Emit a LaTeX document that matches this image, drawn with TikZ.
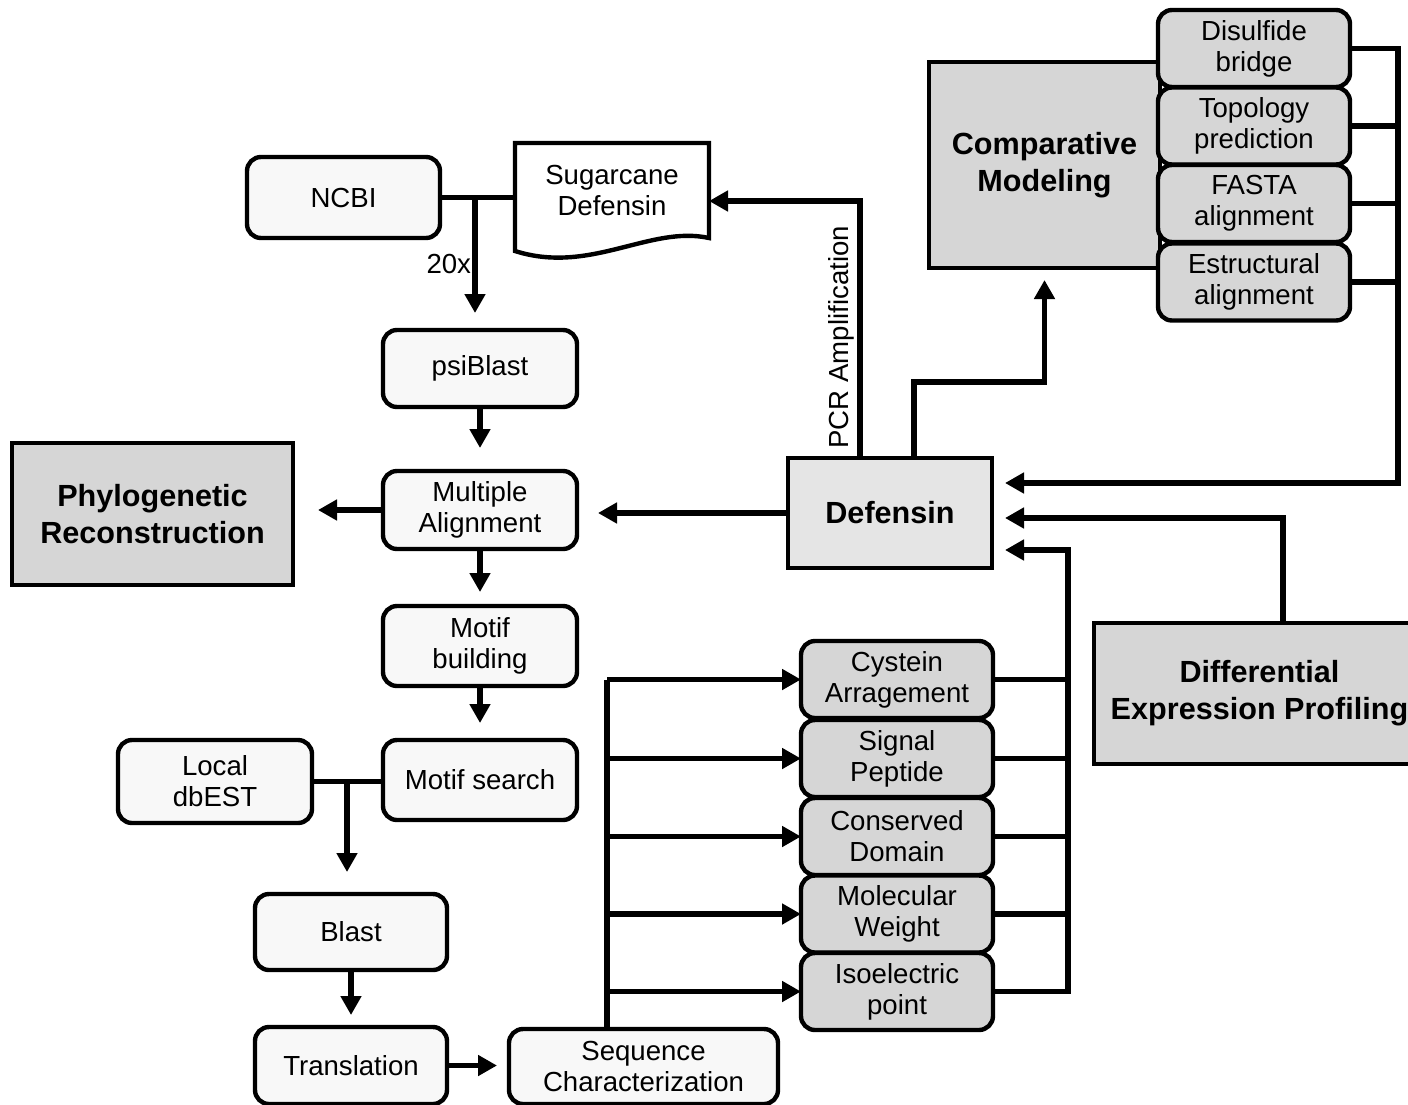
\documentclass[tikz,border=0pt]{standalone}
\usepackage{fontspec}
\setmainfont{Liberation Sans}
\usepackage{tikz}
\usetikzlibrary{arrows.meta,calc}

\definecolor{boxwhite}{RGB}{248,248,248}
\definecolor{boxgray}{RGB}{214,214,214}
\definecolor{boxlight}{RGB}{229,229,229}

\tikzset{
  flowbox/.style={draw=black,line width=2.2pt,rounded corners=7pt,fill=boxwhite,
    align=center,font=\fontsize{13.8}{15.5}\selectfont},
  propbox/.style={flowbox,fill=boxgray,minimum width=96pt,minimum height=38.5pt},
  bigbox/.style={draw=black,line width=2.2pt,fill=boxgray,align=center,
    font=\fontsize{15.3}{18.5}\selectfont\bfseries},
  link/.style={line width=2.6pt},
  flow/.style={link,-{Triangle[length=9.5pt,width=10pt]}},
}

\begin{document}
\begin{tikzpicture}[x=0.5pt,y=0.5pt,yscale=-1,inner sep=0pt,outer sep=0pt]
\useasboundingbox (0,0) rectangle (1408,1104);

\node[flowbox,minimum width=96.5pt,minimum height=40.5pt] (ncbi) at (343.5,197.5) {NCBI};
\node[align=center,font=\fontsize{13.8}{15.5}\selectfont,minimum width=97pt,
  minimum height=47.5pt] (sugar) at (612,190.5) {Sugarcane\\Defensin};
\draw[line width=2.2pt,line join=miter] (sugar.south east) .. controls (650,225) and (590,275) ..
  (515,251) -- (sugar.north west) -- (sugar.north east) -- cycle;
\node[flowbox,minimum width=97pt,minimum height=38.5pt] (psiblast) at (480,368.5) {psiBlast};
\node[flowbox,minimum width=97pt,minimum height=39pt] (malign) at (480,510) {Multiple\\Alignment};
\node[flowbox,minimum width=97pt,minimum height=40pt] (motifb) at (480,646) {Motif\\building};
\node[flowbox,minimum width=97pt,minimum height=40pt] (motifs) at (480,780) {Motif search};
\node[flowbox,minimum width=97pt,minimum height=41.5pt] (dbest) at (215,781.5) {Local\\dbEST};
\node[flowbox,minimum width=96pt,minimum height=38pt] (blast) at (351,932) {Blast};
\node[flowbox,minimum width=96pt,minimum height=38.5pt] (transl) at (351,1065.5) {Translation};
\node[flowbox,minimum width=134.5pt,minimum height=37.5pt] (seqchar) at (643.5,1066.5)
  {Sequence\\Characterization};

\node[bigbox,minimum width=140.5pt,minimum height=71pt] (phylo) at (152.5,514)
  {Phylogenetic\\Reconstruction};
\node[bigbox,fill=boxlight,minimum width=102pt,minimum height=55pt] (defensin) at (890,513) {Defensin};
\node[bigbox,minimum width=115.5pt,minimum height=103pt] (compmod) at (1044.5,165)
  {Comparative\\Modeling};
\node[bigbox,minimum width=165.5pt,minimum height=70.5pt] (diffexp) at (1259.5,693.5)
  {Differential\\Expression Profiling};

\node[propbox] (disulf) at (1254,48.5) {Disulfide\\bridge};
\node[propbox] (topo) at (1254,126) {Topology\\prediction};
\node[propbox] (fasta) at (1254,203.5) {FASTA\\alignment};
\node[propbox] (estruct) at (1254,282) {Estructural\\alignment};

\node[propbox] (cyst) at (897,679.5) {Cystein\\Arragement};
\node[propbox] (signal) at (897,758.5) {Signal\\Peptide};
\node[propbox] (conserv) at (897,836.5) {Conserved\\Domain};
\node[propbox] (molw) at (897,914) {Molecular\\Weight};
\node[propbox] (isoel) at (897,991.5) {Isoelectric\\point};

\coordinate (split20) at (475,197.5);
\coordinate (splitest) at (347,781);
\coordinate (busleft) at (607,679.5);
\coordinate (busright) at (1068,550);
\coordinate (busmod) at (1398,483);
\coordinate (diffup) at (1283,518);
\coordinate (pcrup) at (860,201);
\coordinate (cmstep) at (914,382);

\draw[link] (ncbi.east) -- (ncbi.east -| sugar.west);
\draw[flow,shorten >=8.5pt] (split20) -- (split20 |- psiblast.north)
  node[pos=0.5,left=2pt,font=\fontsize{13.8}{15.5}\selectfont] {20x};
\draw[flow,shorten >=11.5pt] (psiblast) -- (malign);
\draw[flow,shorten >=7pt] (malign) -- (motifb);
\draw[flow,shorten >=8.5pt] (motifb) -- (motifs);
\draw[flow,shorten >=12.5pt] (malign.west) -- (malign.west -| phylo.east);
\draw[link] (dbest.east) -- (dbest.east -| motifs.west);
\draw[flow,shorten >=11pt] (splitest) -- (splitest |- blast.north);
\draw[flow,shorten >=6pt] (blast) -- (transl);
\draw[flow,shorten >=6pt] (transl.east) -- (transl.east -| seqchar.west);

\draw[link] (busleft |- seqchar.north) -- (busleft);
\foreach \b in {cyst,signal,conserv,molw,isoel}
  \draw[flow] (busleft |- \b.west) -- (\b.west);
\foreach \b in {cyst,signal,conserv,molw}
  \draw[link] (\b.east) -- (\b.east -| busright);
\draw[flow,shorten >=6.5pt] (isoel.east) -- (isoel.east -| busright) -- (busright)
  -- (busright -| defensin.east);

\foreach \b in {topo,fasta,estruct}
  \draw[link] (\b.east) -- (\b.east -| busmod);
\draw[flow,shorten >=6.5pt] (disulf.east) -- (disulf.east -| busmod) -- (busmod)
  -- (busmod -| defensin.east);
\draw[flow,shorten >=6.5pt] (diffup |- diffexp.north) -- (diffup) -- (diffup -| defensin.east);

\draw[flow,shorten >=10.5pt] (defensin.west) -- (defensin.west -| malign.east);
\draw[flow] (pcrup |- defensin.north) -- node[pos=0.47,rotate=90,anchor=south,inner sep=3pt,
  font=\fontsize{13.8}{15.5}\selectfont] {PCR Amplification} (pcrup) -- (pcrup -| sugar.east);
\draw[flow,shorten >=6pt] (cmstep |- defensin.north) -- (cmstep) -- (cmstep -| compmod.south)
  -- (compmod.south);

\end{tikzpicture}
\end{document}
